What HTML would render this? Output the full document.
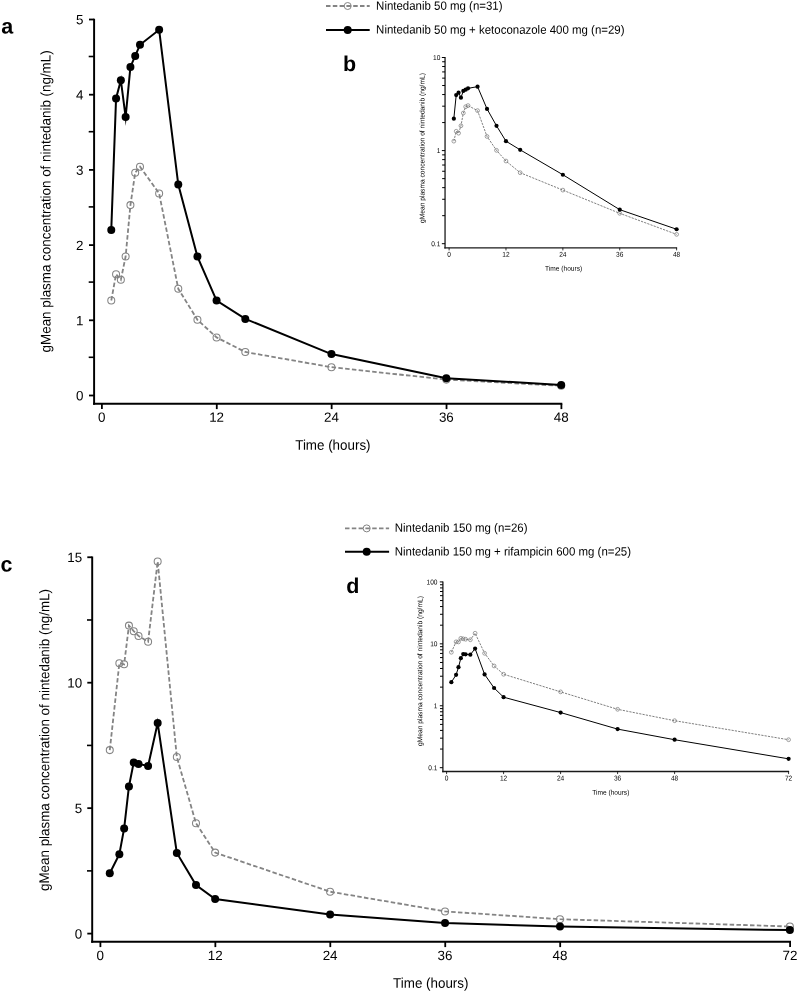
<!DOCTYPE html>
<html lang="en"><head><meta charset="utf-8"><title>Figure</title>
<style>
html,body{margin:0;padding:0;background:#fff;}
body{width:798px;height:991px;overflow:hidden;}
svg{display:block;will-change:transform;font-family:'Liberation Sans', Arial, Helvetica, sans-serif;}
</style></head><body>
<svg width="798" height="991" viewBox="0 0 798 991" text-rendering="geometricPrecision">
<rect width="798" height="991" fill="#fff"/>
<line x1="94.1" y1="18.75" x2="94.1" y2="404.8" stroke="#000" stroke-width="1.95" stroke-linecap="butt"/>
<line x1="93.1" y1="403.8" x2="562.3" y2="403.8" stroke="#000" stroke-width="1.95" stroke-linecap="butt"/>
<line x1="89" y1="395.5" x2="94.1" y2="395.5" stroke="#000" stroke-width="1.8" stroke-linecap="butt"/>
<text transform="translate(83.5 400.35) rotate(0.03)" font-size="13.4" text-anchor="end" fill="#000">0</text>
<line x1="89" y1="320.3" x2="94.1" y2="320.3" stroke="#000" stroke-width="1.8" stroke-linecap="butt"/>
<text transform="translate(83.5 325.15) rotate(0.03)" font-size="13.4" text-anchor="end" fill="#000">1</text>
<line x1="89" y1="245.1" x2="94.1" y2="245.1" stroke="#000" stroke-width="1.8" stroke-linecap="butt"/>
<text transform="translate(83.5 249.95) rotate(0.03)" font-size="13.4" text-anchor="end" fill="#000">2</text>
<line x1="89" y1="169.9" x2="94.1" y2="169.9" stroke="#000" stroke-width="1.8" stroke-linecap="butt"/>
<text transform="translate(83.5 174.75) rotate(0.03)" font-size="13.4" text-anchor="end" fill="#000">3</text>
<line x1="89" y1="94.7" x2="94.1" y2="94.7" stroke="#000" stroke-width="1.8" stroke-linecap="butt"/>
<text transform="translate(83.5 99.55) rotate(0.03)" font-size="13.4" text-anchor="end" fill="#000">4</text>
<line x1="89" y1="19.5" x2="94.1" y2="19.5" stroke="#000" stroke-width="1.8" stroke-linecap="butt"/>
<text transform="translate(83.5 24.35) rotate(0.03)" font-size="13.4" text-anchor="end" fill="#000">5</text>
<line x1="88.7" y1="357.3" x2="94.1" y2="357.3" stroke="#000" stroke-width="1.6" stroke-linecap="butt"/>
<line x1="88.7" y1="282.1" x2="94.1" y2="282.1" stroke="#000" stroke-width="1.6" stroke-linecap="butt"/>
<line x1="88.7" y1="206.9" x2="94.1" y2="206.9" stroke="#000" stroke-width="1.6" stroke-linecap="butt"/>
<line x1="88.7" y1="131.7" x2="94.1" y2="131.7" stroke="#000" stroke-width="1.6" stroke-linecap="butt"/>
<line x1="88.7" y1="56.5" x2="94.1" y2="56.5" stroke="#000" stroke-width="1.6" stroke-linecap="butt"/>
<line x1="101.9" y1="403.8" x2="101.9" y2="409.1" stroke="#000" stroke-width="1.8" stroke-linecap="butt"/>
<text transform="translate(101.7 421.8) rotate(0.03)" font-size="13.4" text-anchor="middle" fill="#000">0</text>
<line x1="216.78" y1="403.8" x2="216.78" y2="409.1" stroke="#000" stroke-width="1.8" stroke-linecap="butt"/>
<text transform="translate(216.58 421.8) rotate(0.03)" font-size="13.4" text-anchor="middle" fill="#000">12</text>
<line x1="331.65" y1="403.8" x2="331.65" y2="409.1" stroke="#000" stroke-width="1.8" stroke-linecap="butt"/>
<text transform="translate(331.45 421.8) rotate(0.03)" font-size="13.4" text-anchor="middle" fill="#000">24</text>
<line x1="446.53" y1="403.8" x2="446.53" y2="409.1" stroke="#000" stroke-width="1.8" stroke-linecap="butt"/>
<text transform="translate(446.33 421.8) rotate(0.03)" font-size="13.4" text-anchor="middle" fill="#000">36</text>
<line x1="561.4" y1="403.8" x2="561.4" y2="409.1" stroke="#000" stroke-width="1.8" stroke-linecap="butt"/>
<text transform="translate(561.2 421.8) rotate(0.03)" font-size="13.4" text-anchor="middle" fill="#000">48</text>
<text transform="translate(50.4 352.4) rotate(-89.97) scale(0.956 1)" font-size="14" text-anchor="start" fill="#000">gMean plasma concentration of nintedanib (ng/mL)</text>
<text transform="translate(295.2 449.7) rotate(0.03) scale(0.956 1)" font-size="14" text-anchor="start" fill="#000">Time (hours)</text>
<text transform="translate(1.2 33.6) rotate(0.03)" font-size="21.5" text-anchor="start" font-weight="bold" fill="#000">a</text>
<polyline points="111.27,300.5 116.06,274.2 120.85,279.8 125.63,256.5 130.42,205.1 135.21,172.7 139.99,166.7 159.14,193.4 178.28,288.8 197.43,319.8 216.58,337.4 245.3,352 331.45,367.2 446.33,379.6 561.2,385.8" fill="none" stroke="#848484" stroke-width="1.8" stroke-linejoin="miter" stroke-miterlimit="10" stroke-dasharray="4.5 2.3"/>
<circle cx="111.27" cy="300.5" r="3.5" fill="none" stroke="#848484" stroke-width="1.05"/>
<circle cx="116.06" cy="274.2" r="3.5" fill="none" stroke="#848484" stroke-width="1.05"/>
<circle cx="120.85" cy="279.8" r="3.5" fill="none" stroke="#848484" stroke-width="1.05"/>
<circle cx="125.63" cy="256.5" r="3.5" fill="none" stroke="#848484" stroke-width="1.05"/>
<circle cx="130.42" cy="205.1" r="3.5" fill="none" stroke="#848484" stroke-width="1.05"/>
<circle cx="135.21" cy="172.7" r="3.5" fill="none" stroke="#848484" stroke-width="1.05"/>
<circle cx="139.99" cy="166.7" r="3.5" fill="none" stroke="#848484" stroke-width="1.05"/>
<circle cx="159.14" cy="193.4" r="3.5" fill="none" stroke="#848484" stroke-width="1.05"/>
<circle cx="178.28" cy="288.8" r="3.5" fill="none" stroke="#848484" stroke-width="1.05"/>
<circle cx="197.43" cy="319.8" r="3.5" fill="none" stroke="#848484" stroke-width="1.05"/>
<circle cx="216.58" cy="337.4" r="3.5" fill="none" stroke="#848484" stroke-width="1.05"/>
<circle cx="245.3" cy="352" r="3.5" fill="none" stroke="#848484" stroke-width="1.05"/>
<circle cx="331.45" cy="367.2" r="3.5" fill="none" stroke="#848484" stroke-width="1.05"/>
<circle cx="446.33" cy="379.6" r="3.5" fill="none" stroke="#848484" stroke-width="1.05"/>
<circle cx="561.2" cy="385.8" r="3.5" fill="none" stroke="#848484" stroke-width="1.05"/>
<polyline points="111.27,229.9 116.06,98.5 120.85,80.2 125.63,117.1 130.42,66.9 135.21,55.9 139.99,44.8 159.14,29.8 178.28,184.6 197.43,256.6 216.58,300.6 245.3,318.9 331.45,354.1 446.33,378.2 561.2,385" fill="none" stroke="#000" stroke-width="2" stroke-linejoin="miter" stroke-miterlimit="10"/>
<circle cx="111.27" cy="229.9" r="4" fill="#000"/>
<circle cx="116.06" cy="98.5" r="4" fill="#000"/>
<circle cx="120.85" cy="80.2" r="4" fill="#000"/>
<circle cx="125.63" cy="117.1" r="4" fill="#000"/>
<circle cx="130.42" cy="66.9" r="4" fill="#000"/>
<circle cx="135.21" cy="55.9" r="4" fill="#000"/>
<circle cx="139.99" cy="44.8" r="4" fill="#000"/>
<circle cx="159.14" cy="29.8" r="4" fill="#000"/>
<circle cx="178.28" cy="184.6" r="4" fill="#000"/>
<circle cx="197.43" cy="256.6" r="4" fill="#000"/>
<circle cx="216.58" cy="300.6" r="4" fill="#000"/>
<circle cx="245.3" cy="318.9" r="4" fill="#000"/>
<circle cx="331.45" cy="354.1" r="4" fill="#000"/>
<circle cx="446.33" cy="378.2" r="4" fill="#000"/>
<circle cx="561.2" cy="385" r="4" fill="#000"/>
<line x1="326" y1="6" x2="369.7" y2="6" stroke="#848484" stroke-width="1.8" stroke-linecap="butt" stroke-dasharray="4.5 2.3"/>
<circle cx="347.7" cy="6" r="3.5" fill="none" stroke="#848484" stroke-width="1"/>
<text transform="translate(376.1 9.7) rotate(0.03) scale(0.955 1)" font-size="12" text-anchor="start" fill="#000">Nintedanib 50 mg (n=31)</text>
<line x1="326" y1="30.1" x2="369.7" y2="30.1" stroke="#000" stroke-width="2" stroke-linecap="butt"/>
<circle cx="347.7" cy="30.1" r="4" fill="#000"/>
<text transform="translate(376.1 33.6) rotate(0.03) scale(0.955 1)" font-size="12" text-anchor="start" fill="#000">Nintedanib 50 mg + ketoconazole 400 mg (n=29)</text>
<text transform="translate(343 70.9) rotate(0.03)" font-size="21.5" text-anchor="start" font-weight="bold" fill="#000">b</text>
<line x1="445.05" y1="57" x2="445.05" y2="248.45" stroke="#1a1a1a" stroke-width="1.3" stroke-linecap="butt"/>
<line x1="444.35" y1="247.8" x2="677.12" y2="247.8" stroke="#1a1a1a" stroke-width="1.3" stroke-linecap="butt"/>
<line x1="441.85" y1="57.5" x2="445.05" y2="57.5" stroke="#000" stroke-width="1" stroke-linecap="butt"/>
<text transform="translate(440.3 60) rotate(0.03) scale(0.94 1)" font-size="7" text-anchor="end" fill="#000">10</text>
<line x1="441.85" y1="150.6" x2="445.05" y2="150.6" stroke="#000" stroke-width="1" stroke-linecap="butt"/>
<text transform="translate(440.3 153.1) rotate(0.03) scale(0.94 1)" font-size="7" text-anchor="end" fill="#000">1</text>
<line x1="441.85" y1="243.7" x2="445.05" y2="243.7" stroke="#000" stroke-width="1" stroke-linecap="butt"/>
<text transform="translate(440.3 246.2) rotate(0.03) scale(0.94 1)" font-size="7" text-anchor="end" fill="#000">0.1</text>
<line x1="442.15" y1="215.67" x2="445.05" y2="215.67" stroke="#000" stroke-width="1" stroke-linecap="butt"/>
<line x1="442.15" y1="199.28" x2="445.05" y2="199.28" stroke="#000" stroke-width="1" stroke-linecap="butt"/>
<line x1="442.15" y1="187.65" x2="445.05" y2="187.65" stroke="#000" stroke-width="1" stroke-linecap="butt"/>
<line x1="442.15" y1="178.63" x2="445.05" y2="178.63" stroke="#000" stroke-width="1" stroke-linecap="butt"/>
<line x1="442.15" y1="171.25" x2="445.05" y2="171.25" stroke="#000" stroke-width="1" stroke-linecap="butt"/>
<line x1="442.15" y1="165.02" x2="445.05" y2="165.02" stroke="#000" stroke-width="1" stroke-linecap="butt"/>
<line x1="442.15" y1="159.62" x2="445.05" y2="159.62" stroke="#000" stroke-width="1" stroke-linecap="butt"/>
<line x1="442.15" y1="154.86" x2="445.05" y2="154.86" stroke="#000" stroke-width="1" stroke-linecap="butt"/>
<line x1="442.15" y1="122.57" x2="445.05" y2="122.57" stroke="#000" stroke-width="1" stroke-linecap="butt"/>
<line x1="442.15" y1="106.18" x2="445.05" y2="106.18" stroke="#000" stroke-width="1" stroke-linecap="butt"/>
<line x1="442.15" y1="94.55" x2="445.05" y2="94.55" stroke="#000" stroke-width="1" stroke-linecap="butt"/>
<line x1="442.15" y1="85.53" x2="445.05" y2="85.53" stroke="#000" stroke-width="1" stroke-linecap="butt"/>
<line x1="442.15" y1="78.15" x2="445.05" y2="78.15" stroke="#000" stroke-width="1" stroke-linecap="butt"/>
<line x1="442.15" y1="71.92" x2="445.05" y2="71.92" stroke="#000" stroke-width="1" stroke-linecap="butt"/>
<line x1="442.15" y1="66.52" x2="445.05" y2="66.52" stroke="#000" stroke-width="1" stroke-linecap="butt"/>
<line x1="442.15" y1="61.76" x2="445.05" y2="61.76" stroke="#000" stroke-width="1" stroke-linecap="butt"/>
<line x1="449.1" y1="247.8" x2="449.1" y2="250.4" stroke="#000" stroke-width="0.8" stroke-linecap="butt"/>
<text transform="translate(449.1 256.8) rotate(0.03) scale(0.94 1)" font-size="7" text-anchor="middle" fill="#000">0</text>
<line x1="505.98" y1="247.8" x2="505.98" y2="250.4" stroke="#000" stroke-width="0.8" stroke-linecap="butt"/>
<text transform="translate(505.98 256.8) rotate(0.03) scale(0.94 1)" font-size="7" text-anchor="middle" fill="#000">12</text>
<line x1="562.86" y1="247.8" x2="562.86" y2="250.4" stroke="#000" stroke-width="0.8" stroke-linecap="butt"/>
<text transform="translate(562.86 256.8) rotate(0.03) scale(0.94 1)" font-size="7" text-anchor="middle" fill="#000">24</text>
<line x1="619.74" y1="247.8" x2="619.74" y2="250.4" stroke="#000" stroke-width="0.8" stroke-linecap="butt"/>
<text transform="translate(619.74 256.8) rotate(0.03) scale(0.94 1)" font-size="7" text-anchor="middle" fill="#000">36</text>
<line x1="676.62" y1="247.8" x2="676.62" y2="250.4" stroke="#000" stroke-width="0.8" stroke-linecap="butt"/>
<text transform="translate(676.62 256.8) rotate(0.03) scale(0.94 1)" font-size="7" text-anchor="middle" fill="#000">48</text>
<text transform="translate(424.4 222.9) rotate(-89.97) scale(0.948 1)" font-size="7" text-anchor="start" fill="#000">gMean plasma concentration of nintedanib (ng/mL)</text>
<text transform="translate(545.1 270.7) rotate(0.03) scale(0.94 1)" font-size="7" text-anchor="start" fill="#000">Time (hours)</text>
<polyline points="453.84,141.15 456.21,131.27 458.58,133.18 460.95,125.76 463.32,113.04 465.69,106.68 468.06,105.61 477.54,110.63 487.02,136.45 496.5,150.33 505.98,161.03 520.2,172.73 562.86,190.11 619.74,213.32 676.62,234.36" fill="none" stroke="#707070" stroke-width="0.9" stroke-linejoin="miter" stroke-miterlimit="10" stroke-dasharray="2.2 1.15"/>
<circle cx="453.84" cy="141.15" r="1.9" fill="none" stroke="#707070" stroke-width="0.65"/>
<circle cx="456.21" cy="131.27" r="1.9" fill="none" stroke="#707070" stroke-width="0.65"/>
<circle cx="458.58" cy="133.18" r="1.9" fill="none" stroke="#707070" stroke-width="0.65"/>
<circle cx="460.95" cy="125.76" r="1.9" fill="none" stroke="#707070" stroke-width="0.65"/>
<circle cx="463.32" cy="113.04" r="1.9" fill="none" stroke="#707070" stroke-width="0.65"/>
<circle cx="465.69" cy="106.68" r="1.9" fill="none" stroke="#707070" stroke-width="0.65"/>
<circle cx="468.06" cy="105.61" r="1.9" fill="none" stroke="#707070" stroke-width="0.65"/>
<circle cx="477.54" cy="110.63" r="1.9" fill="none" stroke="#707070" stroke-width="0.65"/>
<circle cx="487.02" cy="136.45" r="1.9" fill="none" stroke="#707070" stroke-width="0.65"/>
<circle cx="496.5" cy="150.33" r="1.9" fill="none" stroke="#707070" stroke-width="0.65"/>
<circle cx="505.98" cy="161.03" r="1.9" fill="none" stroke="#707070" stroke-width="0.65"/>
<circle cx="520.2" cy="172.73" r="1.9" fill="none" stroke="#707070" stroke-width="0.65"/>
<circle cx="562.86" cy="190.11" r="1.9" fill="none" stroke="#707070" stroke-width="0.65"/>
<circle cx="619.74" cy="213.32" r="1.9" fill="none" stroke="#707070" stroke-width="0.65"/>
<circle cx="676.62" cy="234.36" r="1.9" fill="none" stroke="#707070" stroke-width="0.65"/>
<polyline points="453.84,118.68 456.21,95.06 458.58,92.64 460.95,97.68 463.32,90.97 465.69,89.64 468.06,88.34 477.54,86.65 487.02,108.9 496.5,125.79 505.98,141.19 520.2,149.85 562.86,174.73 619.74,209.67 676.62,229.24" fill="none" stroke="#000" stroke-width="1" stroke-linejoin="miter" stroke-miterlimit="10"/>
<circle cx="453.84" cy="118.68" r="2.1" fill="#000"/>
<circle cx="456.21" cy="95.06" r="2.1" fill="#000"/>
<circle cx="458.58" cy="92.64" r="2.1" fill="#000"/>
<circle cx="460.95" cy="97.68" r="2.1" fill="#000"/>
<circle cx="463.32" cy="90.97" r="2.1" fill="#000"/>
<circle cx="465.69" cy="89.64" r="2.1" fill="#000"/>
<circle cx="468.06" cy="88.34" r="2.1" fill="#000"/>
<circle cx="477.54" cy="86.65" r="2.1" fill="#000"/>
<circle cx="487.02" cy="108.9" r="2.1" fill="#000"/>
<circle cx="496.5" cy="125.79" r="2.1" fill="#000"/>
<circle cx="505.98" cy="141.19" r="2.1" fill="#000"/>
<circle cx="520.2" cy="149.85" r="2.1" fill="#000"/>
<circle cx="562.86" cy="174.73" r="2.1" fill="#000"/>
<circle cx="619.74" cy="209.67" r="2.1" fill="#000"/>
<circle cx="676.62" cy="229.24" r="2.1" fill="#000"/>
<line x1="92.2" y1="556.55" x2="92.2" y2="942.7" stroke="#000" stroke-width="1.95" stroke-linecap="butt"/>
<line x1="91.2" y1="941.7" x2="790.99" y2="941.7" stroke="#000" stroke-width="1.95" stroke-linecap="butt"/>
<line x1="87.3" y1="933.6" x2="92.2" y2="933.6" stroke="#000" stroke-width="1.8" stroke-linecap="butt"/>
<text transform="translate(82.2 938.45) rotate(0.03)" font-size="13.4" text-anchor="end" fill="#000">0</text>
<line x1="87.3" y1="808.15" x2="92.2" y2="808.15" stroke="#000" stroke-width="1.8" stroke-linecap="butt"/>
<text transform="translate(82.2 813) rotate(0.03)" font-size="13.4" text-anchor="end" fill="#000">5</text>
<line x1="87.3" y1="682.7" x2="92.2" y2="682.7" stroke="#000" stroke-width="1.8" stroke-linecap="butt"/>
<text transform="translate(82.2 687.55) rotate(0.03)" font-size="13.4" text-anchor="end" fill="#000">10</text>
<line x1="87.3" y1="557.25" x2="92.2" y2="557.25" stroke="#000" stroke-width="1.8" stroke-linecap="butt"/>
<text transform="translate(82.2 562.1) rotate(0.03)" font-size="13.4" text-anchor="end" fill="#000">15</text>
<line x1="87" y1="870.88" x2="92.2" y2="870.88" stroke="#000" stroke-width="1.6" stroke-linecap="butt"/>
<line x1="87" y1="745.42" x2="92.2" y2="745.42" stroke="#000" stroke-width="1.6" stroke-linecap="butt"/>
<line x1="87" y1="619.98" x2="92.2" y2="619.98" stroke="#000" stroke-width="1.6" stroke-linecap="butt"/>
<line x1="100.4" y1="941.7" x2="100.4" y2="947.1" stroke="#000" stroke-width="1.8" stroke-linecap="butt"/>
<text transform="translate(100.2 959.9) rotate(0.03)" font-size="13.4" text-anchor="middle" fill="#000">0</text>
<line x1="215.35" y1="941.7" x2="215.35" y2="947.1" stroke="#000" stroke-width="1.8" stroke-linecap="butt"/>
<text transform="translate(215.15 959.9) rotate(0.03)" font-size="13.4" text-anchor="middle" fill="#000">12</text>
<line x1="330.3" y1="941.7" x2="330.3" y2="947.1" stroke="#000" stroke-width="1.8" stroke-linecap="butt"/>
<text transform="translate(330.1 959.9) rotate(0.03)" font-size="13.4" text-anchor="middle" fill="#000">24</text>
<line x1="445.24" y1="941.7" x2="445.24" y2="947.1" stroke="#000" stroke-width="1.8" stroke-linecap="butt"/>
<text transform="translate(445.04 959.9) rotate(0.03)" font-size="13.4" text-anchor="middle" fill="#000">36</text>
<line x1="560.19" y1="941.7" x2="560.19" y2="947.1" stroke="#000" stroke-width="1.8" stroke-linecap="butt"/>
<text transform="translate(559.99 959.9) rotate(0.03)" font-size="13.4" text-anchor="middle" fill="#000">48</text>
<line x1="790.09" y1="941.7" x2="790.09" y2="947.1" stroke="#000" stroke-width="1.8" stroke-linecap="butt"/>
<text transform="translate(789.89 959.9) rotate(0.03)" font-size="13.4" text-anchor="middle" fill="#000">72</text>
<text transform="translate(49.1 891) rotate(-89.97) scale(0.956 1)" font-size="14" text-anchor="start" fill="#000">gMean plasma concentration of nintedanib (ng/mL)</text>
<text transform="translate(393.1 987.8) rotate(0.03) scale(0.956 1)" font-size="14" text-anchor="start" fill="#000">Time (hours)</text>
<text transform="translate(0.6 571.5) rotate(0.03)" font-size="21.5" text-anchor="start" font-weight="bold" fill="#000">c</text>
<polyline points="109.78,750.1 119.36,663.2 124.15,664.3 128.94,625.6 133.73,631.2 138.52,635.9 148.09,641.7 157.67,561.5 176.83,757 195.99,823.3 215.15,852.6 330.1,891.7 445.04,911.4 559.99,919.2 789.89,926.5" fill="none" stroke="#848484" stroke-width="1.8" stroke-linejoin="miter" stroke-miterlimit="10" stroke-dasharray="4.5 2.3"/>
<circle cx="109.78" cy="750.1" r="3.5" fill="none" stroke="#848484" stroke-width="1.05"/>
<circle cx="119.36" cy="663.2" r="3.5" fill="none" stroke="#848484" stroke-width="1.05"/>
<circle cx="124.15" cy="664.3" r="3.5" fill="none" stroke="#848484" stroke-width="1.05"/>
<circle cx="128.94" cy="625.6" r="3.5" fill="none" stroke="#848484" stroke-width="1.05"/>
<circle cx="133.73" cy="631.2" r="3.5" fill="none" stroke="#848484" stroke-width="1.05"/>
<circle cx="138.52" cy="635.9" r="3.5" fill="none" stroke="#848484" stroke-width="1.05"/>
<circle cx="148.09" cy="641.7" r="3.5" fill="none" stroke="#848484" stroke-width="1.05"/>
<circle cx="157.67" cy="561.5" r="3.5" fill="none" stroke="#848484" stroke-width="1.05"/>
<circle cx="176.83" cy="757" r="3.5" fill="none" stroke="#848484" stroke-width="1.05"/>
<circle cx="195.99" cy="823.3" r="3.5" fill="none" stroke="#848484" stroke-width="1.05"/>
<circle cx="215.15" cy="852.6" r="3.5" fill="none" stroke="#848484" stroke-width="1.05"/>
<circle cx="330.1" cy="891.7" r="3.5" fill="none" stroke="#848484" stroke-width="1.05"/>
<circle cx="445.04" cy="911.4" r="3.5" fill="none" stroke="#848484" stroke-width="1.05"/>
<circle cx="559.99" cy="919.2" r="3.5" fill="none" stroke="#848484" stroke-width="1.05"/>
<circle cx="789.89" cy="926.5" r="3.5" fill="none" stroke="#848484" stroke-width="1.05"/>
<polyline points="109.78,873.3 119.36,854.3 124.15,828.4 128.94,786.5 133.73,762.4 138.52,763.9 148.09,766 157.67,723 176.83,853 195.99,885 215.15,899.1 330.1,914.4 445.04,923.1 559.99,926.5 789.89,930.1" fill="none" stroke="#000" stroke-width="2" stroke-linejoin="miter" stroke-miterlimit="10"/>
<circle cx="109.78" cy="873.3" r="4" fill="#000"/>
<circle cx="119.36" cy="854.3" r="4" fill="#000"/>
<circle cx="124.15" cy="828.4" r="4" fill="#000"/>
<circle cx="128.94" cy="786.5" r="4" fill="#000"/>
<circle cx="133.73" cy="762.4" r="4" fill="#000"/>
<circle cx="138.52" cy="763.9" r="4" fill="#000"/>
<circle cx="148.09" cy="766" r="4" fill="#000"/>
<circle cx="157.67" cy="723" r="4" fill="#000"/>
<circle cx="176.83" cy="853" r="4" fill="#000"/>
<circle cx="195.99" cy="885" r="4" fill="#000"/>
<circle cx="215.15" cy="899.1" r="4" fill="#000"/>
<circle cx="330.1" cy="914.4" r="4" fill="#000"/>
<circle cx="445.04" cy="923.1" r="4" fill="#000"/>
<circle cx="559.99" cy="926.5" r="4" fill="#000"/>
<circle cx="789.89" cy="930.1" r="4" fill="#000"/>
<line x1="345" y1="528.4" x2="389.1" y2="528.4" stroke="#848484" stroke-width="1.8" stroke-linecap="butt" stroke-dasharray="4.5 2.3"/>
<circle cx="366.7" cy="528.4" r="3.5" fill="none" stroke="#848484" stroke-width="1"/>
<text transform="translate(394.7 531.7) rotate(0.03) scale(0.955 1)" font-size="12" text-anchor="start" fill="#000">Nintedanib 150 mg (n=26)</text>
<line x1="345" y1="551.7" x2="389.1" y2="551.7" stroke="#000" stroke-width="2" stroke-linecap="butt"/>
<circle cx="366.7" cy="551.7" r="4" fill="#000"/>
<text transform="translate(394.7 555.5) rotate(0.03) scale(0.955 1)" font-size="12" text-anchor="start" fill="#000">Nintedanib 150 mg + rifampicin 600 mg (n=25)</text>
<text transform="translate(346.2 593) rotate(0.03)" font-size="21.5" text-anchor="start" font-weight="bold" fill="#000">d</text>
<line x1="442.9" y1="581.41" x2="442.9" y2="772.15" stroke="#1a1a1a" stroke-width="1.3" stroke-linecap="butt"/>
<line x1="442.2" y1="771.5" x2="789.1" y2="771.5" stroke="#1a1a1a" stroke-width="1.3" stroke-linecap="butt"/>
<line x1="439.8" y1="581.91" x2="442.9" y2="581.91" stroke="#000" stroke-width="1" stroke-linecap="butt"/>
<text transform="translate(437.5 584.41) rotate(0.03) scale(0.94 1)" font-size="7" text-anchor="end" fill="#000">100</text>
<line x1="439.8" y1="643.84" x2="442.9" y2="643.84" stroke="#000" stroke-width="1" stroke-linecap="butt"/>
<text transform="translate(437.5 646.34) rotate(0.03) scale(0.94 1)" font-size="7" text-anchor="end" fill="#000">10</text>
<line x1="439.8" y1="705.77" x2="442.9" y2="705.77" stroke="#000" stroke-width="1" stroke-linecap="butt"/>
<text transform="translate(437.5 708.27) rotate(0.03) scale(0.94 1)" font-size="7" text-anchor="end" fill="#000">1</text>
<line x1="439.8" y1="767.7" x2="442.9" y2="767.7" stroke="#000" stroke-width="1" stroke-linecap="butt"/>
<text transform="translate(437.5 770.2) rotate(0.03) scale(0.94 1)" font-size="7" text-anchor="end" fill="#000">0.1</text>
<line x1="440" y1="749.06" x2="442.9" y2="749.06" stroke="#000" stroke-width="1" stroke-linecap="butt"/>
<line x1="440" y1="738.15" x2="442.9" y2="738.15" stroke="#000" stroke-width="1" stroke-linecap="butt"/>
<line x1="440" y1="730.41" x2="442.9" y2="730.41" stroke="#000" stroke-width="1" stroke-linecap="butt"/>
<line x1="440" y1="724.41" x2="442.9" y2="724.41" stroke="#000" stroke-width="1" stroke-linecap="butt"/>
<line x1="440" y1="719.51" x2="442.9" y2="719.51" stroke="#000" stroke-width="1" stroke-linecap="butt"/>
<line x1="440" y1="715.36" x2="442.9" y2="715.36" stroke="#000" stroke-width="1" stroke-linecap="butt"/>
<line x1="440" y1="711.77" x2="442.9" y2="711.77" stroke="#000" stroke-width="1" stroke-linecap="butt"/>
<line x1="440" y1="708.6" x2="442.9" y2="708.6" stroke="#000" stroke-width="1" stroke-linecap="butt"/>
<line x1="440" y1="687.13" x2="442.9" y2="687.13" stroke="#000" stroke-width="1" stroke-linecap="butt"/>
<line x1="440" y1="676.22" x2="442.9" y2="676.22" stroke="#000" stroke-width="1" stroke-linecap="butt"/>
<line x1="440" y1="668.48" x2="442.9" y2="668.48" stroke="#000" stroke-width="1" stroke-linecap="butt"/>
<line x1="440" y1="662.48" x2="442.9" y2="662.48" stroke="#000" stroke-width="1" stroke-linecap="butt"/>
<line x1="440" y1="657.58" x2="442.9" y2="657.58" stroke="#000" stroke-width="1" stroke-linecap="butt"/>
<line x1="440" y1="653.43" x2="442.9" y2="653.43" stroke="#000" stroke-width="1" stroke-linecap="butt"/>
<line x1="440" y1="649.84" x2="442.9" y2="649.84" stroke="#000" stroke-width="1" stroke-linecap="butt"/>
<line x1="440" y1="646.67" x2="442.9" y2="646.67" stroke="#000" stroke-width="1" stroke-linecap="butt"/>
<line x1="440" y1="625.2" x2="442.9" y2="625.2" stroke="#000" stroke-width="1" stroke-linecap="butt"/>
<line x1="440" y1="614.29" x2="442.9" y2="614.29" stroke="#000" stroke-width="1" stroke-linecap="butt"/>
<line x1="440" y1="606.55" x2="442.9" y2="606.55" stroke="#000" stroke-width="1" stroke-linecap="butt"/>
<line x1="440" y1="600.55" x2="442.9" y2="600.55" stroke="#000" stroke-width="1" stroke-linecap="butt"/>
<line x1="440" y1="595.65" x2="442.9" y2="595.65" stroke="#000" stroke-width="1" stroke-linecap="butt"/>
<line x1="440" y1="591.5" x2="442.9" y2="591.5" stroke="#000" stroke-width="1" stroke-linecap="butt"/>
<line x1="440" y1="587.91" x2="442.9" y2="587.91" stroke="#000" stroke-width="1" stroke-linecap="butt"/>
<line x1="440" y1="584.74" x2="442.9" y2="584.74" stroke="#000" stroke-width="1" stroke-linecap="butt"/>
<line x1="446.6" y1="771.5" x2="446.6" y2="774.1" stroke="#000" stroke-width="0.8" stroke-linecap="butt"/>
<text transform="translate(446.6 780.4) rotate(0.03) scale(0.94 1)" font-size="7" text-anchor="middle" fill="#000">0</text>
<line x1="503.6" y1="771.5" x2="503.6" y2="774.1" stroke="#000" stroke-width="0.8" stroke-linecap="butt"/>
<text transform="translate(503.6 780.4) rotate(0.03) scale(0.94 1)" font-size="7" text-anchor="middle" fill="#000">12</text>
<line x1="560.6" y1="771.5" x2="560.6" y2="774.1" stroke="#000" stroke-width="0.8" stroke-linecap="butt"/>
<text transform="translate(560.6 780.4) rotate(0.03) scale(0.94 1)" font-size="7" text-anchor="middle" fill="#000">24</text>
<line x1="617.6" y1="771.5" x2="617.6" y2="774.1" stroke="#000" stroke-width="0.8" stroke-linecap="butt"/>
<text transform="translate(617.6 780.4) rotate(0.03) scale(0.94 1)" font-size="7" text-anchor="middle" fill="#000">36</text>
<line x1="674.6" y1="771.5" x2="674.6" y2="774.1" stroke="#000" stroke-width="0.8" stroke-linecap="butt"/>
<text transform="translate(674.6 780.4) rotate(0.03) scale(0.94 1)" font-size="7" text-anchor="middle" fill="#000">48</text>
<line x1="788.6" y1="771.5" x2="788.6" y2="774.1" stroke="#000" stroke-width="0.8" stroke-linecap="butt"/>
<text transform="translate(788.6 780.4) rotate(0.03) scale(0.94 1)" font-size="7" text-anchor="middle" fill="#000">72</text>
<text transform="translate(422.3 745.9) rotate(-89.97) scale(0.948 1)" font-size="7" text-anchor="start" fill="#000">gMean plasma concentration of nintedanib (ng/mL)</text>
<text transform="translate(592.3 794.8) rotate(0.03) scale(0.94 1)" font-size="7" text-anchor="start" fill="#000">Time (hours)</text>
<polyline points="451.35,652.25 456.1,641.83 458.48,641.94 460.85,638.33 463.23,638.82 465.6,639.24 470.35,639.77 475.1,633.24 484.6,653.28 494.1,665.94 503.6,674.25 560.6,691.86 617.6,709.3 674.6,720.7 788.6,739.72" fill="none" stroke="#707070" stroke-width="0.9" stroke-linejoin="miter" stroke-miterlimit="10" stroke-dasharray="2.2 1.15"/>
<circle cx="451.35" cy="652.25" r="1.9" fill="none" stroke="#707070" stroke-width="0.65"/>
<circle cx="456.1" cy="641.83" r="1.9" fill="none" stroke="#707070" stroke-width="0.65"/>
<circle cx="458.48" cy="641.94" r="1.9" fill="none" stroke="#707070" stroke-width="0.65"/>
<circle cx="460.85" cy="638.33" r="1.9" fill="none" stroke="#707070" stroke-width="0.65"/>
<circle cx="463.23" cy="638.82" r="1.9" fill="none" stroke="#707070" stroke-width="0.65"/>
<circle cx="465.6" cy="639.24" r="1.9" fill="none" stroke="#707070" stroke-width="0.65"/>
<circle cx="470.35" cy="639.77" r="1.9" fill="none" stroke="#707070" stroke-width="0.65"/>
<circle cx="475.1" cy="633.24" r="1.9" fill="none" stroke="#707070" stroke-width="0.65"/>
<circle cx="484.6" cy="653.28" r="1.9" fill="none" stroke="#707070" stroke-width="0.65"/>
<circle cx="494.1" cy="665.94" r="1.9" fill="none" stroke="#707070" stroke-width="0.65"/>
<circle cx="503.6" cy="674.25" r="1.9" fill="none" stroke="#707070" stroke-width="0.65"/>
<circle cx="560.6" cy="691.86" r="1.9" fill="none" stroke="#707070" stroke-width="0.65"/>
<circle cx="617.6" cy="709.3" r="1.9" fill="none" stroke="#707070" stroke-width="0.65"/>
<circle cx="674.6" cy="720.7" r="1.9" fill="none" stroke="#707070" stroke-width="0.65"/>
<circle cx="788.6" cy="739.72" r="1.9" fill="none" stroke="#707070" stroke-width="0.65"/>
<polyline points="451.35,682.19 456.1,674.82 458.48,667.22 460.85,658.2 463.23,654.12 465.6,654.36 470.35,654.69 475.1,648.55 484.6,674.38 494.1,687.99 503.6,697.2 560.6,712.56 617.6,729.1 674.6,739.72 788.6,758.84" fill="none" stroke="#000" stroke-width="1" stroke-linejoin="miter" stroke-miterlimit="10"/>
<circle cx="451.35" cy="682.19" r="2.1" fill="#000"/>
<circle cx="456.1" cy="674.82" r="2.1" fill="#000"/>
<circle cx="458.48" cy="667.22" r="2.1" fill="#000"/>
<circle cx="460.85" cy="658.2" r="2.1" fill="#000"/>
<circle cx="463.23" cy="654.12" r="2.1" fill="#000"/>
<circle cx="465.6" cy="654.36" r="2.1" fill="#000"/>
<circle cx="470.35" cy="654.69" r="2.1" fill="#000"/>
<circle cx="475.1" cy="648.55" r="2.1" fill="#000"/>
<circle cx="484.6" cy="674.38" r="2.1" fill="#000"/>
<circle cx="494.1" cy="687.99" r="2.1" fill="#000"/>
<circle cx="503.6" cy="697.2" r="2.1" fill="#000"/>
<circle cx="560.6" cy="712.56" r="2.1" fill="#000"/>
<circle cx="617.6" cy="729.1" r="2.1" fill="#000"/>
<circle cx="674.6" cy="739.72" r="2.1" fill="#000"/>
<circle cx="788.6" cy="758.84" r="2.1" fill="#000"/>
</svg>
</body></html>
